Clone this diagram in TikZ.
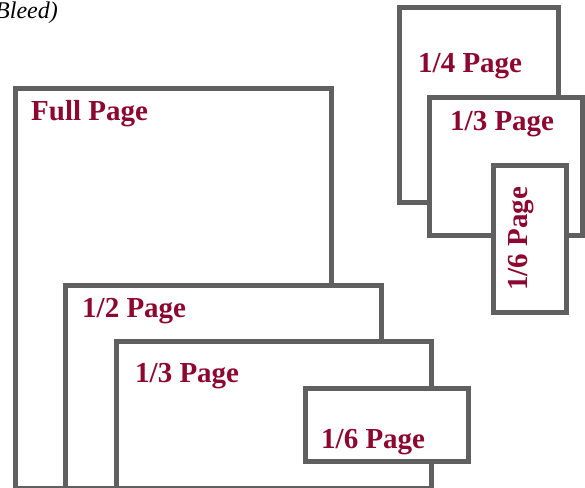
\documentclass[tikz,border=0pt]{standalone}
\usepackage{fontspec}
\setmainfont{Liberation Serif}
\definecolor{boxgray}{RGB}{96,96,96}
\definecolor{labelred}{RGB}{140,8,48}
\begin{document}
\begin{tikzpicture}[x=1pt,y=-1pt,
  pagebox/.style={draw=boxgray,line width=5pt,fill=white},
  pagelabel/.style={text=labelred,font=\fontsize{29}{32}\selectfont\bfseries,inner sep=0pt,anchor=base west}]
\useasboundingbox (0,0) rectangle (585,487);
\begin{scope}
\clip (0,0) rectangle (585,487);
% left group
\draw[pagebox] (15,88) rectangle (331,488);
\node[pagelabel] (full) at (31,120) {Full Page};
\draw[pagebox] (65.5,285) rectangle (381,488);
\node[pagelabel] (half) at (82,317) {1/2 Page};
\draw[pagebox] (116.5,341.5) rectangle (431.5,488);
\node[pagelabel] (thirdA) at (135,382) {1/3 Page};
\draw[pagebox] (305.5,388.5) rectangle (468.5,461);
\node[pagelabel] (sixthA) at (321,448) {1/6 Page};
% right group
\draw[pagebox] (399.5,7.5) rectangle (558.5,202.5);
\node[pagelabel] (quarter) at (418,72) {1/4 Page};
\draw[pagebox] (429,97.5) rectangle (582,235.5);
\node[pagelabel] (thirdB) at (450,130) {1/3 Page};
\draw[pagebox] (493.5,165) rectangle (566.5,312.5);
\node[pagelabel,rotate=90] (sixthB) at (527,291) {1/6 Page};
% cut-off caption
\node[font=\fontsize{24}{28}\selectfont\itshape,inner sep=0pt,anchor=base east] (bleed) at (58,19) {Bleed)};
\end{scope}
\end{tikzpicture}
\end{document}
